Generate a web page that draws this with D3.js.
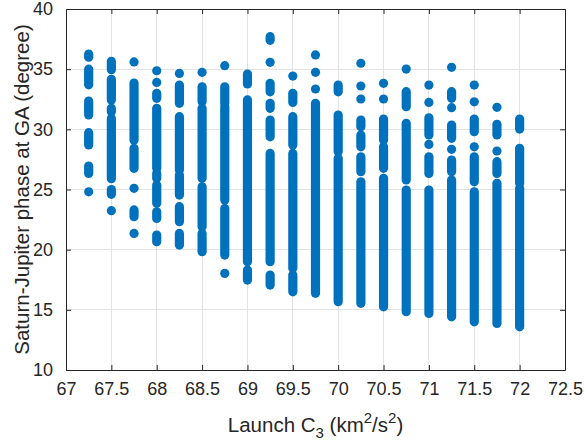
<!DOCTYPE html>
<html>
<head>
<meta charset="utf-8">
<script src="https://cdn.jsdelivr.net/npm/d3@7"></script>
<style>
  html, body { margin: 0; padding: 0; background: #fff; }
  svg { display: block; font-family: "Liberation Sans", Arial, Helvetica, sans-serif; }
</style>
</head>
<body>
<svg id="chart" width="584" height="442"></svg>
<script>
// Launch C3 values (columns)
const launchC3 = [67.25, 67.5, 67.75, 68, 68.25, 68.5, 68.75, 69, 69.25, 69.5,
                  69.75, 70, 70.25, 70.5, 70.75, 71, 71.25, 71.5, 71.75, 72];

// Saturn-Jupiter phase at GA: runs of densely packed points per column [low, high]
const phaseRuns = [
  [[36.0,36.25],[33.7,35.0],[31.2,32.35],[28.7,29.72],[26.34,26.95],[24.81,24.81]],
  [[34.95,35.65],[32.44,34.16],[31.46,31.75],[25.9,30.9],[24.6,25.0],[23.24,23.24]],
  [[35.6,35.6],[29.1,33.85],[26.76,28.42],[25.1,25.1],[22.74,23.3],[21.35,21.35]],
  [[34.87,34.87],[33.9,33.9],[32.58,32.99],[26.76,31.75],[25.93,26.34],[23.85,25.37],[22.6,23.15],[20.66,21.21]],
  [[34.65,34.65],[32.16,33.68],[26.62,31.05],[24.54,26.2],[22.32,23.57],[20.38,21.35]],
  [[34.74,34.74],[32.29,33.54],[25.93,31.75],[21.9,25.23],[19.83,21.35]],
  [[35.29,35.29],[32.16,33.54],[24.12,31.88],[19.55,23.43],[18.03,18.03]],
  [[33.77,34.6],[19.0,32.44],[17.47,18.3]],
  [[37.4,37.7],[35.57,35.57],[33.12,33.82],[31.75,32.16],[29.38,30.77],[19.0,28.0],[17.06,17.89]],
  [[34.43,34.43],[32.24,32.99],[28.7,31.05],[18.45,28.0],[16.5,17.89]],
  [[36.18,36.18],[34.74,34.74],[33.35,33.35],[16.37,32.16]],
  [[33.12,33.68],[28.14,31.19],[15.67,27.59]],
  [[35.49,35.49],[33.6,33.6],[32.52,32.52],[30.22,30.77],[28.55,29.53],[26.48,27.72],[15.54,25.64]],
  [[33.82,33.82],[32.52,32.52],[29.11,30.86],[26.76,28.55],[15.25,25.93]],
  [[35.01,35.01],[31.88,33.13],[25.79,30.5],[14.84,24.95]],
  [[33.68,33.68],[32.24,32.24],[29.53,30.96],[28.75,28.75],[26.34,27.72],[14.7,24.95]],
  [[35.15,35.15],[32.58,33.13],[31.8,31.8],[29.25,30.36],[28.34,28.34],[26.48,27.45],[14.42,25.79]],
  [[33.68,33.68],[32.29,32.29],[29.8,30.86],[28.55,28.55],[25.64,27.72],[14.0,24.81]],
  [[31.83,31.83],[29.53,30.42],[28.2,28.2],[26.34,27.31],[13.87,25.51]],
  [[30.02,30.86],[25.51,28.42],[13.59,25.1]]
];

const xTicks = [67, 67.5, 68, 68.5, 69, 69.5, 70, 70.5, 71, 71.5, 72, 72.5];
const yTicks = [10, 15, 20, 25, 30, 35, 40];
const xDomain = [67, 72.5];
const yDomain = [10, 40];

const margin = { left: 66, right: 19, top: 9, bottom: 72 };
const W = 584, H = 442;
const svg = d3.select("#chart");
const x = d3.scaleLinear().domain(xDomain).range([margin.left, W - margin.right]);
const y = d3.scaleLinear().domain(yDomain).range([H - margin.bottom, margin.top]);

const axisColor = "#262626";
const gridColor = "#e3e3e3";
const markColor = "#0072BD";
const tickLen = 5;
const R = 4.6;

// grid
const grid = svg.append("g");
grid.selectAll("line.gx").data(xTicks.slice(1, -1)).join("line")
  .attr("x1", d => x(d)).attr("x2", d => x(d))
  .attr("y1", y(yDomain[0])).attr("y2", y(yDomain[1]))
  .attr("stroke", gridColor).attr("stroke-width", 1).attr("shape-rendering", "crispEdges");
grid.selectAll("line.gy").data(yTicks.slice(1, -1)).join("line")
  .attr("y1", d => y(d)).attr("y2", d => y(d))
  .attr("x1", x(xDomain[0])).attr("x2", x(xDomain[1]))
  .attr("stroke", gridColor).attr("stroke-width", 1).attr("shape-rendering", "crispEdges");

// data marks
const marks = svg.append("g");
const flat = [];
launchC3.forEach((c, i) => phaseRuns[i].forEach(r => flat.push({ c, lo: r[0], hi: r[1] })));
marks.selectAll("rect").data(flat).join("rect")
  .attr("x", d => x(d.c) - R)
  .attr("y", d => y(d.hi) - R)
  .attr("width", 2 * R)
  .attr("height", d => y(d.lo) - y(d.hi) + 2 * R)
  .attr("rx", R).attr("ry", R)
  .attr("fill", markColor);

// axes with inward ticks
const xAxisB = d3.axisBottom(x).tickValues(xTicks).tickSizeInner(-tickLen).tickSizeOuter(0)
  .tickPadding(12).tickFormat(d3.format("~g"));
const xAxisT = d3.axisTop(x).tickValues(xTicks).tickSizeInner(-tickLen).tickSizeOuter(0).tickFormat("");
const yAxisL = d3.axisLeft(y).tickValues(yTicks).tickSizeInner(-tickLen).tickSizeOuter(0)
  .tickPadding(13).tickFormat(d3.format("~g"));
const yAxisR = d3.axisRight(y).tickValues(yTicks).tickSizeInner(-tickLen).tickSizeOuter(0).tickFormat("");

function style(g) {
  g.select(".domain").attr("stroke", axisColor).attr("stroke-width", 1);
  g.selectAll(".tick line").attr("stroke", axisColor).attr("stroke-width", 1);
  g.selectAll(".tick text").attr("fill", axisColor).attr("font-size", 18)
    .attr("font-family", "'Liberation Sans', Arial, Helvetica, sans-serif");
}
svg.append("g").attr("transform", `translate(0,${y(yDomain[0])})`).call(xAxisB).call(style);
svg.append("g").attr("transform", `translate(0,${y(yDomain[1])})`).call(xAxisT).call(style);
svg.append("g").attr("transform", `translate(${x(xDomain[0])},0)`).call(yAxisL).call(style);
svg.append("g").attr("transform", `translate(${x(xDomain[1])},0)`).call(yAxisR).call(style);

// x label
const xl = svg.append("text")
  .attr("x", (x(xDomain[0]) + x(xDomain[1])) / 2)
  .attr("y", 432)
  .attr("text-anchor", "middle")
  .attr("fill", axisColor)
  .attr("font-size", 20.5);
xl.append("tspan").text("Launch C");
xl.append("tspan").attr("font-size", 15).attr("dy", 6).text("3");
xl.append("tspan").attr("dy", -6).text(" (km");
xl.append("tspan").attr("font-size", 15).attr("dy", -9).text("2");
xl.append("tspan").attr("dy", 9).text("/s");
xl.append("tspan").attr("font-size", 15).attr("dy", -9).text("2");
xl.append("tspan").attr("dy", 9).text(")");

// y label
svg.append("text")
  .attr("transform", `translate(29,${(y(yDomain[0]) + y(yDomain[1])) / 2}) rotate(-90)`)
  .attr("text-anchor", "middle")
  .attr("fill", axisColor)
  .attr("font-size", 20.5)
  .text("Saturn-Jupiter phase at GA (degree)");
</script>
</body>
</html>
